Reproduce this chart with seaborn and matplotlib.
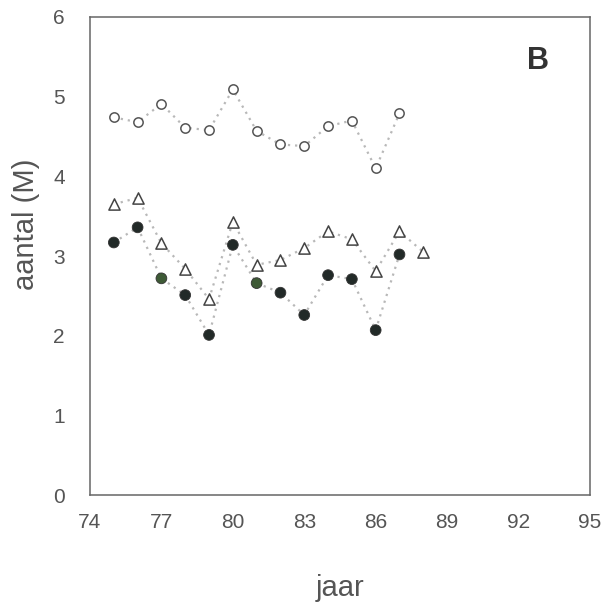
import matplotlib
matplotlib.use("Agg")
import matplotlib.pyplot as plt
import seaborn as sns
import pandas as pd

# data
years_open = [75, 76, 77, 78, 79, 80, 81, 82, 83, 84, 85, 86, 87]
open_circle = [4.74, 4.68, 4.91, 4.61, 4.58, 5.09, 4.57, 4.40, 4.38, 4.63, 4.70, 4.10, 4.79]

years_tri = [75, 76, 77, 78, 79, 80, 81, 82, 83, 84, 85, 86, 87, 88]
triangle = [3.65, 3.73, 3.16, 2.84, 2.46, 3.43, 2.89, 2.95, 3.10, 3.31, 3.21, 2.81, 3.31, 3.05]

years_fill = [75, 76, 77, 78, 79, 80, 81, 82, 83, 84, 85, 86, 87]
filled_circle = [3.17, 3.36, 2.72, 2.51, 2.01, 3.14, 2.66, 2.54, 2.26, 2.76, 2.71, 2.07, 3.02]
filled_tint = ["d", "d", "g", "d", "d", "d", "g", "d", "d", "d", "d", "d", "d"]

x_ticks = [74, 77, 80, 83, 86, 89, 92, 95]
y_ticks = [0, 1, 2, 3, 4, 5, 6]

sns.set_style("white")
plt.rcParams["font.family"] = ["Liberation Sans", "DejaVu Sans"]

fig = plt.figure(figsize=(6.06, 6.06), dpi=100)
ax = fig.add_axes([0.1485, 0.183, 0.825, 0.789])

line_kw = dict(color="#b8b8b8", linestyle=(0, (1, 2.2)), linewidth=1.6, legend=False)
sns.lineplot(x=years_open, y=open_circle, ax=ax, **line_kw)
sns.lineplot(x=years_tri, y=triangle, ax=ax, **line_kw)
sns.lineplot(x=years_fill, y=filled_circle, ax=ax, **line_kw)

sns.scatterplot(x=years_open, y=open_circle, ax=ax, marker="o", s=45,
                facecolor="white", edgecolor="#555555", linewidth=1.1, zorder=3)
sns.scatterplot(x=years_tri, y=triangle, ax=ax, marker="^", s=65,
                facecolor="white", edgecolor="#444444", linewidth=1.1, zorder=3)
df_fill = pd.DataFrame({"jaar": years_fill, "aantal": filled_circle, "tint": filled_tint})
sns.scatterplot(data=df_fill, x="jaar", y="aantal", hue="tint",
                palette={"d": "#222a28", "g": "#3e5a36"}, ax=ax, marker="o", s=60,
                edgecolor="#333333", linewidth=0.6, zorder=3, legend=False)

ax.set_xlim(74, 95)
ax.set_ylim(0, 6)
ax.set_xticks(x_ticks)
ax.set_yticks(y_ticks)
ax.set_xticklabels([str(t) for t in x_ticks])
ax.set_yticklabels([str(t) for t in y_ticks])
ax.tick_params(axis="both", direction="in", length=8, width=1, color="#666666",
               labelsize=15, labelcolor="#555555")
ax.tick_params(axis="x", pad=13)
ax.tick_params(axis="y", pad=18)

for sp in ax.spines.values():
    sp.set_visible(True)
    sp.set_color("#666666")
    sp.set_linewidth(1.1)

ax.set_xlabel("jaar", fontsize=21, color="#555555", labelpad=30)
ax.set_ylabel("aantal (M)", fontsize=21, color="#555555")
ax.yaxis.set_label_coords(-0.1, 0.567)

ax.text(92.8, 5.45, "B", fontsize=22, fontweight="bold", color="#333333",
        ha="center", va="center")

fig.savefig("out.png", dpi=100)
